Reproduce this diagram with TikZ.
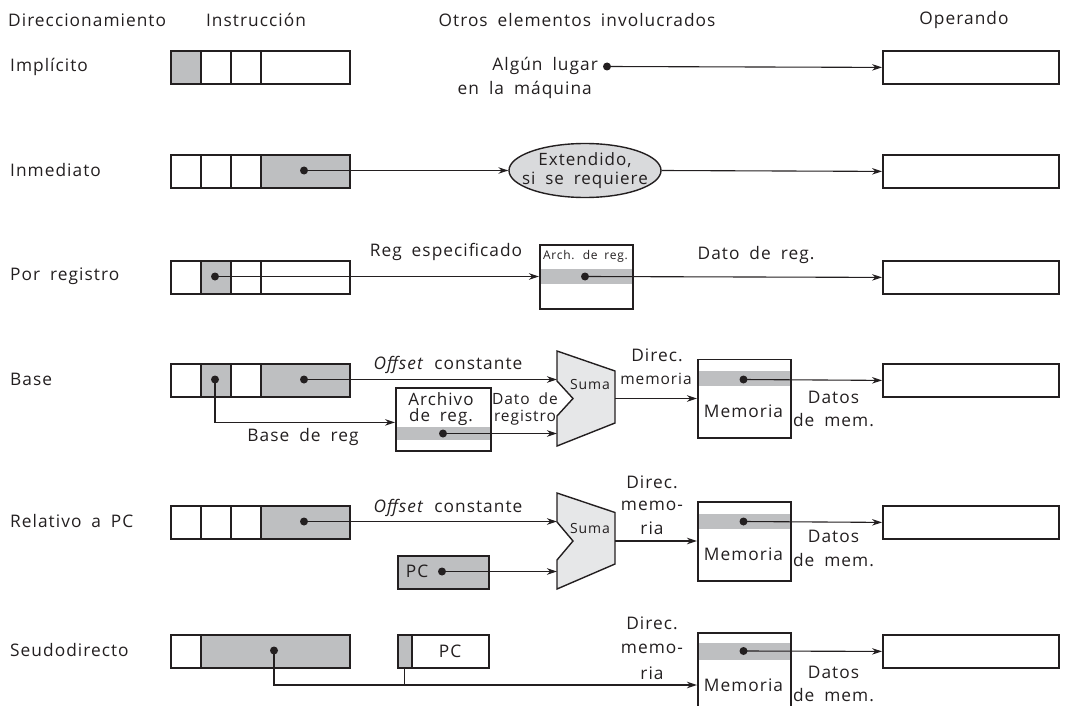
\documentclass[tikz,border=0pt]{standalone}
\usepackage{fontspec}
\setmainfont{Open Sans}[LetterSpace=6, WordSpace=1.8]
\usetikzlibrary{arrows.meta,shapes.geometric}
\definecolor{gr}{RGB}{190,191,193}
\definecolor{lg}{RGB}{230,231,232}
\definecolor{eg}{RGB}{217,218,220}
\definecolor{ln}{RGB}{35,31,32}
\begin{document}
\begin{tikzpicture}[x=1pt,y=-1pt,
  every node/.style={inner sep=0pt, text=ln},
  txt/.style={font=\fontsize{17.3}{19}\selectfont},
  stxt/.style={font=\fontsize{15.5}{18}\selectfont},
  fld/.style={draw=ln, line width=1.8pt, minimum height=33pt, anchor=north west, fill=white},
  gf/.style={fld, fill=gr},
  bx/.style={draw=ln, line width=1.8pt, anchor=north west},
  dotn/.style={circle, fill=ln, minimum size=8pt},
  arr/.style={draw=ln, line width=1.1pt, -{Stealth[length=10pt,width=6.5pt]}},
  ln1/.style={draw=ln, line width=1.1pt},
  sumab/.style={draw=ln, line width=1.4pt, fill=lg, line join=miter},
  band/.style={fill=gr}
]
\useasboundingbox (0,0) rectangle (1071,706);

% headers
\node[txt, anchor=west] (h1) at (8,20) {Direccionamiento};
\node[txt] (h2) at (256,20) {Instrucción};
\node[txt] (h3) at (577,20) {Otros elementos involucrados};
\node[txt] (h4) at (964,20) {Operando};

% row labels
\node[txt, anchor=west] (l1) at (10,66.5) {Implícito};
\node[txt, anchor=west] (l2) at (10,170.5) {Inmediato};
\node[txt, anchor=west] (l3) at (10,276.5) {Por registro};
\node[txt, anchor=west] (l4) at (10,379.5) {Base};
\node[txt, anchor=west] (l5) at (10,521.5) {Relativo a PC};
\node[txt, anchor=west] (l6) at (10,650.5) {Seudodirecto};

% operand boxes
\node[fld, minimum width=176pt] (o1) at (882,50) {};
\node[fld, minimum width=176pt] (o2) at (882,154) {};
\node[fld, minimum width=176pt] (o3) at (882,260) {};
\node[fld, minimum width=176pt] (o4) at (882,363) {};
\node[fld, minimum width=176pt] (o5) at (882,505) {};
\node[fld, minimum width=176pt] (o6) at (882,634) {};

% ---------- Row 1: Implicito
\node[gf, minimum width=30pt] (a1) at (170,50) {};
\node[fld, minimum width=30pt] (a2) at (200,50) {};
\node[fld, minimum width=30pt] (a3) at (230,50) {};
\node[fld, minimum width=89pt] (a4) at (260,50) {};
\node[txt, anchor=east] (alg) at (598,66) {Algún lugar};
\node[txt, anchor=east] (maq) at (592,90) {en la máquina};
\node[dotn] (d1) at (607,66.5) {};
\draw[arr] (d1.center) -- (o1.west);

% ---------- Row 2: Inmediato
\node[fld, minimum width=30pt] (b1) at (170,154) {};
\node[fld, minimum width=30pt] (b2) at (200,154) {};
\node[fld, minimum width=30pt] (b3) at (230,154) {};
\node[gf, minimum width=89pt] (b4) at (260,154) {};
\node[dotn] (d2) at (304,170.5) {};
\node[ellipse, draw=ln, line width=1.4pt, fill=eg, minimum width=152pt, minimum height=54pt] (ell) at (585,170.5) {};
\node[txt, align=center, font=\fontsize{17}{18.5}\selectfont] (ellt) at (585,170.5) {Extendido,\\si se requiere};
\draw[arr] (d2.center) -- (ell.west);
\draw[arr] (ell.east) -- (o2.west);

% ---------- Row 3: Por registro
\node[fld, minimum width=30pt] (c1) at (170,260) {};
\node[gf, minimum width=30pt] (c2) at (200,260) {};
\node[fld, minimum width=30pt] (c3) at (230,260) {};
\node[fld, minimum width=89pt] (c4) at (260,260) {};
\node[dotn] (d3) at (215,276.5) {};
\fill[band] (539,269) rectangle (632,284);
\node[bx, minimum width=93pt, minimum height=64pt] (arch) at (539,244) {};
\node[font=\fontsize{12}{14}\selectfont] (archt) at (585.5,256) {Arch. de reg.};
\node[dotn] (d3b) at (585,276.5) {};
\node[txt] (regesp) at (446,252) {Reg especificado};
\node[txt] (datreg) at (756,255) {Dato de reg.};
\draw[arr] (d3.center) -- (d3.center -| arch.west);
\draw[arr] (d3b.center) -- (o3.west);

% ---------- Row 4: Base
\node[fld, minimum width=30pt] (e1) at (170,363) {};
\node[gf, minimum width=30pt] (e2) at (200,363) {};
\node[fld, minimum width=30pt] (e3) at (230,363) {};
\node[gf, minimum width=89pt] (e4) at (260,363) {};
\node[dotn] (d4a) at (215,379.5) {};
\node[dotn] (d4b) at (304,379.5) {};
\node[txt] (off4) at (448,365) {\textit{Offset} constante};
\fill[band] (395,427) rectangle (490,440);
\node[bx, minimum width=95pt, minimum height=63pt] (ar4) at (395,387) {};
\node[align=center, font=\fontsize{17}{15.5}\selectfont] (ar4t) at (441,409) {Archivo\\de reg.};
\node[dotn] (d4c) at (443,433.5) {};
\node[txt] (basereg) at (303,437) {Base de reg};
\node[stxt, align=center, font=\fontsize{15.5}{17.5}\selectfont] (dd) at (525,409) {Dato de\\registro};
\draw[sumab] (557,351) -- (615,371) -- (615,423) -- (557,446) -- (557,416) -- (573,398.5) -- (557,381) -- cycle;
\coordinate (s4in1) at (557,379.5);
\coordinate (s4in2) at (557,433.5);
\coordinate (s4out) at (615,398.5);
\node[font=\fontsize{14}{16}\selectfont] (s4t) at (590,384) {Suma};
\draw[arr] (d4b.center) -- (s4in1);
\draw[arr] (d4a.center) |- ([yshift=-3pt]ar4.west);
\draw[arr] (d4c.center) -- (s4in2);
\fill[band] (697,371) rectangle (790,386);
\node[bx, minimum width=93pt, minimum height=78.5pt] (mem4) at (697,358.5) {};
\node[txt] (mem4t) at (743.5,411) {Memoria};
\node[dotn] (d4m) at (743.5,379.5) {};
\draw[arr] (s4out) -- (s4out -| mem4.west);
\draw[arr] (d4m.center) -- (o4.west);
\node[txt] (dir4a) at (657,355) {Direc.};
\node[stxt] (dir4b) at (656,379) {memoria};
\node[txt] (dat4a) at (833.5,397) {Datos};
\node[txt] (dat4b) at (833.5,420) {de mem.};

% ---------- Row 5: Relativo a PC
\node[fld, minimum width=30pt] (f1) at (170,505) {};
\node[fld, minimum width=30pt] (f2) at (200,505) {};
\node[fld, minimum width=30pt] (f3) at (230,505) {};
\node[gf, minimum width=89pt] (f4) at (260,505) {};
\node[dotn] (d5a) at (304,521.5) {};
\node[txt] (off5) at (448,508) {\textit{Offset} constante};
\node[gf, minimum width=91pt] (pc5) at (397,555) {};
\node[txt] (pc5t) at (417,571.5) {PC};
\node[dotn] (d5b) at (442,571.5) {};
\draw[sumab] (557,493) -- (615,512.5) -- (615,564) -- (557,589) -- (557,560) -- (573,541) -- (557,522) -- cycle;
\coordinate (s5in1) at (557,521.5);
\coordinate (s5in2) at (557,571.5);
\coordinate (s5out) at (615,541);
\node[font=\fontsize{14}{16}\selectfont] (s5t) at (590,528) {Suma};
\draw[arr] (d5a.center) -- (s5in1);
\draw[arr] (d5b.center) -- (s5in2);
\fill[band] (697,513.5) rectangle (790,529);
\node[bx, minimum width=93pt, minimum height=79pt] (mem5) at (697,501) {};
\node[txt] (mem5t) at (743.5,554) {Memoria};
\node[dotn] (d5m) at (743.5,521.5) {};
\draw[arr] (s5out) -- (s5out -| mem5.west);
\draw[arr] (d5m.center) -- (o5.west);
\node[txt] (dir5a) at (652,482) {Direc.};
\node[txt] (dir5b) at (652,506) {memo-};
\node[txt] (dir5c) at (652,528) {ria};
\node[txt] (dat5a) at (833.5,536) {Datos};
\node[txt] (dat5b) at (833.5,560) {de mem.};

% ---------- Row 6: Seudodirecto
\node[fld, minimum width=30pt] (g1) at (170,634) {};
\node[gf, minimum width=149pt] (g2) at (200,634) {};
\node[dotn] (d6) at (274,650.5) {};
\node[gf, minimum width=14pt] (pcg) at (397,634) {};
\node[fld, minimum width=77pt] (pcw) at (411,634) {};
\node[txt] (pc6t) at (450,651) {PC};
\fill[band] (697,643) rectangle (790,660);
\node[bx, minimum width=93pt, minimum height=90pt] (mem6) at (697,632) {};
\coordinate (m6in) at (697,685);
\draw[arr] (d6.center) |- (m6in);
\draw[ln1] (pcg.south) -- (pcg.south |- m6in);
\node[txt] (mem6t) at (743.5,685) {Memoria};
\node[dotn] (d6m) at (743.5,651) {};
\draw[arr] (d6m.center) -- (o6.west);
\node[txt] (dir6a) at (652,623) {Direc.};
\node[txt] (dir6b) at (652,649) {memo-};
\node[txt] (dir6c) at (652,673) {ria};
\node[txt] (dat6a) at (833.5,672) {Datos};
\node[txt] (dat6b) at (833.5,695) {de mem.};
\end{tikzpicture}
\end{document}
